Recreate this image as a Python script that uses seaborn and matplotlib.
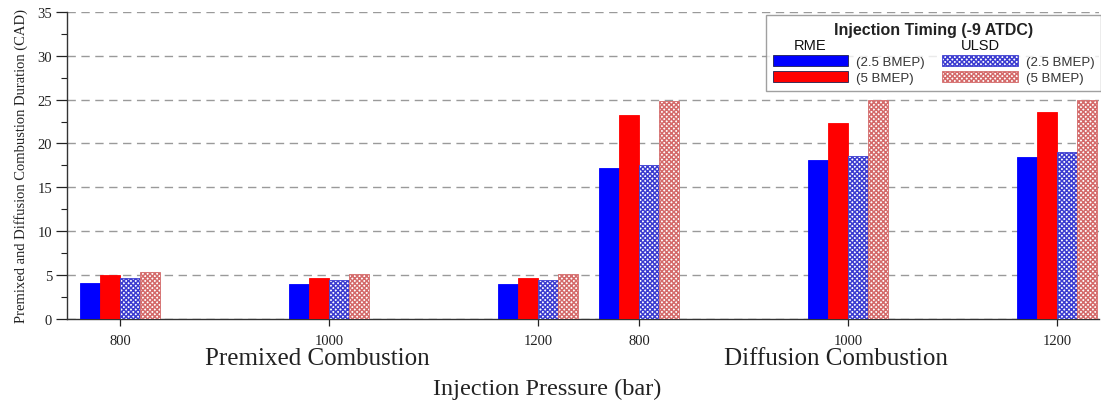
import numpy as np
import pandas as pd
import matplotlib
matplotlib.use("Agg")
import matplotlib.pyplot as plt
from matplotlib.patches import Rectangle
from matplotlib.ticker import MultipleLocator
import seaborn as sns

# ---- data -------------------------------------------------------------
pressure_labels = ["800", "1000", "1200", "800", "1000", "1200"]
phase_names = ["Premixed Combustion", "Diffusion Combustion"]
series_names = ["RME (2.5 BMEP)", "RME (5 BMEP)", "ULSD (2.5 BMEP)", "ULSD (5 BMEP)"]
rme_25 = [4.13, 3.98, 3.98, 17.2, 18.1, 18.45]
rme_5 = [5.0, 4.72, 4.72, 23.2, 22.3, 23.55]
ulsd_25 = [4.62, 4.5, 4.5, 17.6, 18.6, 19.0]
ulsd_5 = [5.34, 5.11, 5.11, 24.8, 24.9, 25.0]

# ---- layout -----------------------------------------------------------
# group centres: three pressures per phase, the diffusion block set
# closer to the premixed block
slot_pos = [0.0, 1.0, 2.0, 2.483, 3.483, 4.483]

values = [rme_25, rme_5, ulsd_25, ulsd_5]
rows = []
for name, vals in zip(series_names, values):
    for pos, v in zip(slot_pos, vals):
        rows.append({"slot": pos, "series": name, "duration": v})
df = pd.DataFrame(rows)

sns.set_theme(style="white")
plt.rcParams["font.family"] = ["Liberation Serif", "DejaVu Serif"]
plt.rcParams["hatch.linewidth"] = 1.1

fig = plt.figure(figsize=(11.01, 4.02), dpi=100)
ax = fig.add_axes([0.0613, 0.204, 0.937, 0.764])

face = ["#0000ff", "#ff0000", "white", "white"]
edge = ["#0000ff", "#ff0000", "#3c3cd0", "#d46a6a"]
hatch = [None, None, "x" * 7, "x" * 7]

sns.barplot(data=df, x="slot", y="duration", hue="series",
            hue_order=series_names, native_scale=True, width=0.79,
            errorbar=None, legend=False, ax=ax, zorder=3,
            palette=dict(zip(series_names, face)))

for cont, fc, ec, h in zip(ax.containers, face, edge, hatch):
    for bar in cont:
        bar.set_facecolor(fc)
        bar.set_edgecolor(ec)
        bar.set_linewidth(0.6)
        if h:
            bar.set_hatch(h)

# ---- axes -------------------------------------------------------------
ax.set_xlim(-0.253, 4.683)
ax.set_ylim(0, 35)
ax.set_xticks(slot_pos)
ax.set_xticklabels(pressure_labels, fontsize=10.5)
ax.yaxis.set_major_locator(MultipleLocator(5))
ax.yaxis.set_minor_locator(MultipleLocator(2.5))
ax.tick_params(axis="y", which="major", direction="out", length=8,
               width=0.9, pad=3, labelsize=10.5, color="#222222", left=True)
ax.tick_params(axis="y", which="minor", direction="out", length=4,
               width=0.8, color="#222222", left=True)
ax.tick_params(axis="x", which="major", direction="out", length=5,
               width=0.9, pad=6, color="#222222", bottom=True)
for lab in ax.get_xticklabels() + ax.get_yticklabels():
    lab.set_color("#222222")

for side in ("top", "right"):
    ax.spines[side].set_visible(False)
for side in ("left", "bottom"):
    ax.spines[side].set_color("#333333")
    ax.spines[side].set_linewidth(1.0)

ax.yaxis.grid(True, linestyle=(0, (6, 4)), color="#9a9a9a", linewidth=1.0)
ax.xaxis.grid(False)
ax.set_axisbelow(True)
ax.set_xlabel("")
ax.set_ylabel("Premixed and Diffusion Combustion Duration (CAD)",
              fontsize=10.5, color="#222222")
ax.yaxis.set_label_coords(-0.0383, 0.5)

# phase captions under the middle pressure of each block
trans = ax.get_xaxis_transform()
for name, centre in zip(phase_names, (slot_pos[1], slot_pos[4])):
    ax.text(centre - 0.06, -0.147, name, transform=trans, ha="center",
            va="baseline", fontsize=18, color="#222222")
fig.text(0.497, 0.017, "Injection Pressure (bar)", ha="center",
         va="baseline", fontsize=17.5, color="#222222")

# ---- legend -----------------------------------------------------------
sans = ["Liberation Sans", "DejaVu Sans"]
handles = [Rectangle((0, 0), 1, 1, facecolor="none", edgecolor="none")]
labels = [" "]
for i in (0, 1):
    handles.append(Rectangle((0, 0), 1, 1, facecolor=face[i], edgecolor="#202050",
                             linewidth=0.6, hatch=hatch[i]))
    labels.append(series_names[i].split(" ", 1)[1])
handles.append(Rectangle((0, 0), 1, 1, facecolor="none", edgecolor="none"))
labels.append(" ")
for i in (2, 3):
    handles.append(Rectangle((0, 0), 1, 1, facecolor=face[i], edgecolor=edge[i],
                             linewidth=0.6, hatch=hatch[i]))
    labels.append(series_names[i].split(" ", 1)[1])

leg = ax.legend(handles, labels, ncol=2, loc="upper right",
                bbox_to_anchor=(1.002, 0.99), frameon=True, fancybox=False,
                title="Injection Timing (-9 ATDC)",
                prop={"family": sans, "size": 9.5},
                handlelength=5.75, handleheight=0.95, handletextpad=0.6,
                columnspacing=1.3, labelspacing=0.2, borderpad=0.5,
                borderaxespad=0.0)
leg.get_title().set_fontfamily(sans)
leg.get_title().set_fontsize(11.5)
leg.get_title().set_fontweight("bold")
leg.get_title().set_color("#222222")
for t in leg.get_texts():
    t.set_color("#333333")
leg.get_frame().set_edgecolor("#888888")
leg.get_frame().set_linewidth(1.0)

# fuel headers centred over their swatch columns
for h_art, fuel in zip((leg.legend_handles[0], leg.legend_handles[3]),
                       ("RME", "ULSD")):
    ax.annotate(fuel, xy=(0.5, 0.45), xycoords=h_art, ha="center", va="center",
                fontsize=10.5, family=sans,
                color="#111111", zorder=10, annotation_clip=False)

fig.savefig("out.png", dpi=100)
